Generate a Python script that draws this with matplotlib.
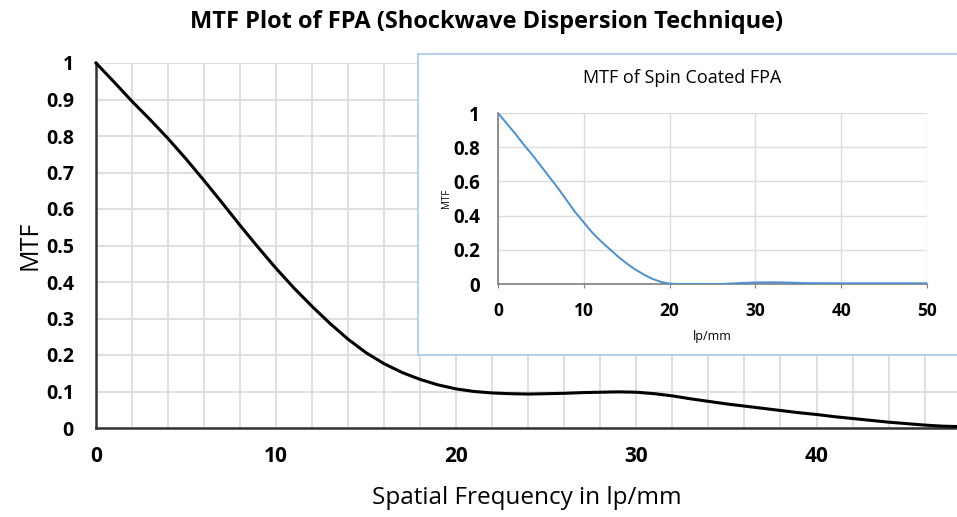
import matplotlib as mpl
from matplotlib import pyplot as plt
from matplotlib.ticker import MultipleLocator

# main curve: shockwave dispersion FPA
freq = list(range(0, 48)) + [47.8]
mtf = [1.0, 0.948, 0.895, 0.845, 0.793, 0.737, 0.678, 0.617, 0.555, 0.495,
       0.437, 0.383, 0.333, 0.286, 0.243, 0.206, 0.176, 0.152, 0.133, 0.118,
       0.107, 0.100, 0.096, 0.094, 0.093, 0.094, 0.095, 0.097, 0.098, 0.099,
       0.098, 0.094, 0.088, 0.080, 0.073, 0.066, 0.060, 0.054, 0.048, 0.042,
       0.037, 0.031, 0.026, 0.021, 0.016, 0.012, 0.008, 0.005, 0.004]

# inset curve: spin coated FPA
spin_freq = list(range(0, 22)) + [26, 28, 30, 32, 34, 36, 40, 50]
spin_mtf = [1.0, 0.94, 0.88, 0.815, 0.755, 0.69, 0.625, 0.56, 0.49, 0.42,
            0.36, 0.30, 0.25, 0.205, 0.16, 0.12, 0.085, 0.055, 0.03, 0.012,
            0.002, 0.0, 0.0, 0.005, 0.009, 0.01, 0.008, 0.005, 0.004, 0.004]

title = "MTF Plot of FPA (Shockwave Dispersion Technique)"
inset_title = "MTF of Spin Coated FPA"

mpl.rcParams['font.family'] = ['Open Sans', 'DejaVu Sans']

W, H = 957, 517
fig = plt.figure(figsize=(W / 100, H / 100), dpi=100)

grid_col = '#dcdcdc'

ax = fig.add_axes([96 / W, 1 - 428 / H, (W - 96) / W, (428 - 63) / H])
ax.plot(freq, mtf, color='black', lw=2.2, zorder=3, clip_on=False)
ax.set_xlim(0, 47.8)
ax.set_ylim(0, 1)
ax.xaxis.set_major_locator(MultipleLocator(10))
ax.xaxis.set_minor_locator(MultipleLocator(2))
ax.yaxis.set_major_locator(MultipleLocator(0.1))
ax.grid(which='both', color=grid_col, lw=1.3)
ax.set_axisbelow(True)
for s in ['top', 'right']:
    ax.spines[s].set_visible(False)
for s in ['left', 'bottom']:
    ax.spines[s].set_color('#333333')
    ax.spines[s].set_linewidth(1.8)
ax.tick_params(which='both', length=0)
ax.tick_params(axis='x', pad=13, labelsize=15)
ax.tick_params(axis='y', pad=16, labelsize=14)
ax.set_yticks([i / 10 for i in range(11)])
ax.set_yticklabels(['0'] + ['0.%d' % i for i in range(1, 10)] + ['1'])
for lab in ax.get_xticklabels() + ax.get_yticklabels():
    lab.set_fontweight('bold')
ax.set_xlabel("Spatial Frequency in lp/mm", fontsize=17.5, labelpad=14)
ax.set_ylabel("MTF", fontsize=18, labelpad=2)
fig.text(487 / W, 1 - 22 / H, title, ha='center', va='center',
         fontsize=17, fontweight='bold')

# white panel holding the inset chart
box = fig.add_axes([418 / W, 1 - 355 / H, (W - 418 + 5) / W, (355 - 54) / H])
box.set_facecolor('white')
box.set_xticks([])
box.set_yticks([])
for s in box.spines.values():
    s.set_color('#a9cbe8')
    s.set_linewidth(1.2)

ins = fig.add_axes([498 / W, 1 - 284 / H, (927 - 498) / W, (284 - 113) / H])
ins.plot(spin_freq, spin_mtf, color='#4a90d0', lw=1.4, zorder=3)
ins.set_xlim(0, 50)
ins.set_ylim(0, 1)
ins.set_xticks(range(0, 51, 10))
ins.set_yticks([0, 0.2, 0.4, 0.6, 0.8, 1])
ins.set_yticklabels(['0', '0.2', '0.4', '0.6', '0.8', '1'])
ins.grid(color=grid_col, lw=1)
ins.set_axisbelow(True)
for s in ['top', 'right']:
    ins.spines[s].set_visible(False)
for s in ['left', 'bottom']:
    ins.spines[s].set_color('#7f7f7f')
    ins.spines[s].set_linewidth(1.2)
ins.tick_params(axis='y', length=0, labelsize=13.5, pad=13)
ins.tick_params(axis='x', direction='out', length=3, color='#7f7f7f',
                labelsize=12.5, pad=10)
for lab in ins.get_xticklabels() + ins.get_yticklabels():
    lab.set_fontweight('bold')
ins.set_xlabel("lp/mm", fontsize=9, labelpad=7)
ins.set_ylabel("MTF", fontsize=7, labelpad=1)
fig.text(682 / W, 1 - 78 / H, inset_title, ha='center', va='center',
         fontsize=13)

fig.savefig("out.png", dpi=100)
